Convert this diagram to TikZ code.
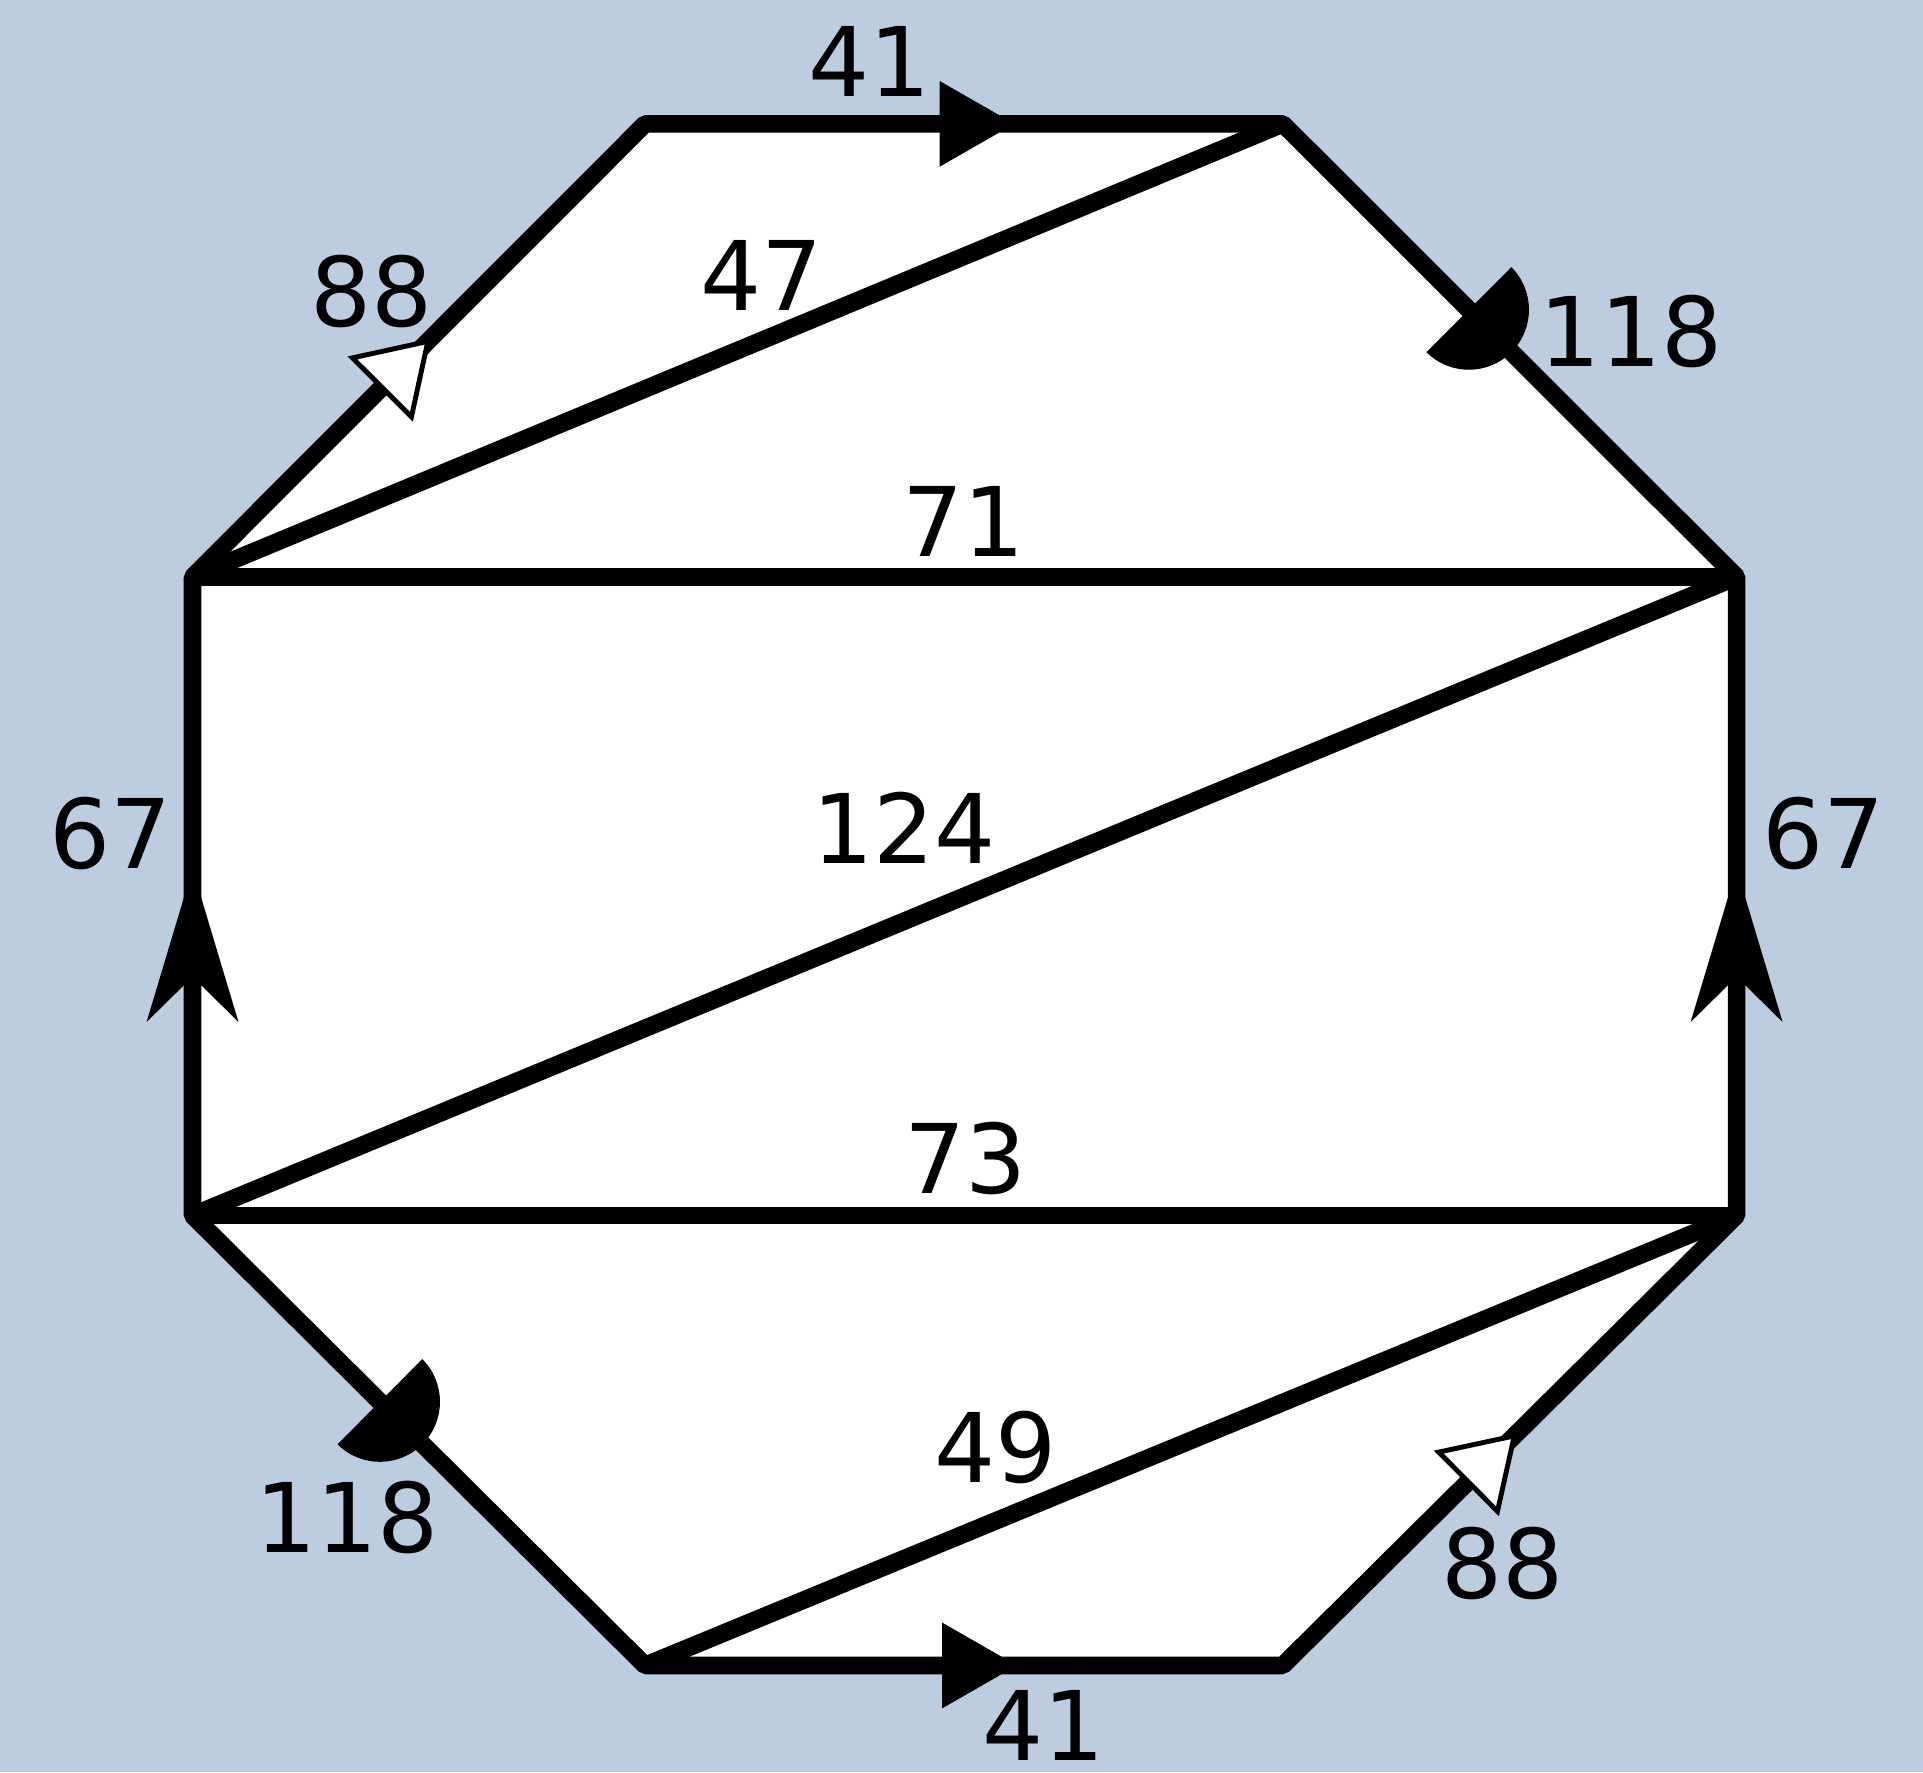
\documentclass[tikz,border=0pt]{standalone}
\usepackage{fontspec}
\setmainfont{DejaVu Sans}
\usetikzlibrary{decorations.markings}
\definecolor{bgblue}{RGB}{188,205,223}

\begin{document}
\begin{tikzpicture}[
    edge/.style={line width=0.144cm, line join=bevel},
    lbl/.style={font=\fontsize{22.3}{26}\selectfont, inner sep=0pt},
    filltri/.style={postaction={decorate}, decoration={markings, mark=at position #1 with {\fill (0,0) -- (-0.61,0.35) -- (-0.61,-0.35) -- cycle;}}},
    opentri/.style={postaction={decorate}, decoration={markings, mark=at position #1 with {\filldraw[fill=white, line width=0.04cm, line join=miter] (0,0) -- (-0.53,0.34) -- (-0.53,-0.34) -- cycle;}}},
    halfdisc/.style={postaction={decorate}, decoration={markings, mark=at position #1 with {\fill (0,0.49) arc[start angle=90, end angle=-90, radius=0.49] -- cycle;}}},
    stealthtip/.style={postaction={decorate}, decoration={markings, mark=at position #1 with {\fill (0,0) -- (-1.25,0.375) -- (-0.88,0) -- (-1.25,-0.375) -- cycle;}}}
  ]
    % Background
    \fill[bgblue] (0,0) rectangle (15.68,14.45);
    \useasboundingbox (0,0) rectangle (15.68,14.45);

    % Corners of the octagon
    \coordinate (A) at (5.26,13.44);
    \coordinate (B) at (10.46,13.44);
    \coordinate (C) at (14.16,9.745);
    \coordinate (D) at (14.16,4.54);
    \coordinate (E) at (10.46,0.87);
    \coordinate (F) at (5.26,0.87);
    \coordinate (G) at (1.57,4.54);
    \coordinate (H) at (1.57,9.745);

    % Face
    \fill[white] (A) -- (B) -- (C) -- (D) -- (E) -- (F) -- (G) -- (H) -- cycle;

    % Diagonals
    \draw[edge] (H) -- (B);
    \draw[edge] (H) -- (C);
    \draw[edge] (C) -- (G);
    \draw[edge] (G) -- (D);
    \draw[edge] (D) -- (F);

    % Boundary
    \draw[edge] (A) -- (B) -- (C) -- (D) -- (E) -- (F) -- (G) -- (H) -- cycle;

    % Arrows on the boundary
    \path[filltri=0.579] (A) -- (B);
    \path[filltri=0.583] (F) -- (E);
    \path[opentri=0.52] (H) -- (A);
    \path[opentri=0.51] (E) -- (D);
    \path[halfdisc=0.41] (B) -- (C);
    \path[halfdisc=0.414] (G) -- (F);
    \path[stealthtip=0.543] (G) -- (H);
    \path[stealthtip=0.543] (D) -- (C);

    % Labels
    \node[lbl] (l41t) at (7.09,13.95) {41};
    \node[lbl] (l88t) at (3.03,12.07) {88};
    \node[lbl] (l47) at (6.21,12.20) {47};
    \node[lbl] (l118t) at (13.30,11.75) {118};
    \node[lbl] (l71) at (7.86,10.20) {71};
    \node[lbl] (l67l) at (0.90,7.65) {67};
    \node[lbl] (l124) at (7.37,7.70) {124};
    \node[lbl] (l67r) at (14.87,7.65) {67};
    \node[lbl] (l73) at (7.87,5.00) {73};
    \node[lbl] (l118b) at (2.83,2.08) {118};
    \node[lbl] (l49) at (8.12,2.65) {49};
    \node[lbl] (l88b) at (12.25,1.70) {88};
    \node[lbl] (l41b) at (8.51,0.38) {41};
  \end{tikzpicture}
\end{document}
